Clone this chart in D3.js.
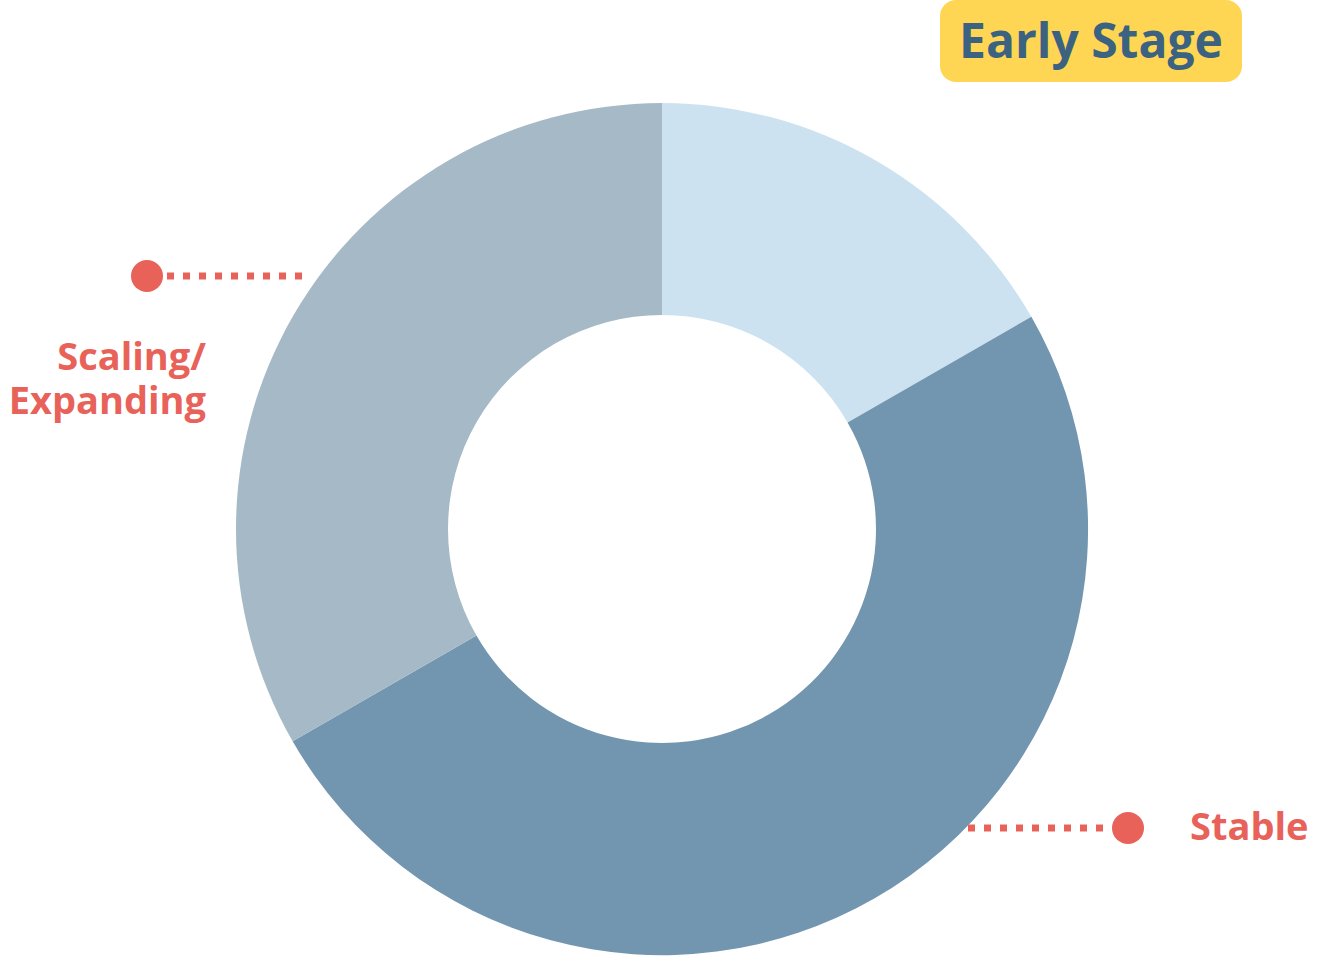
<!DOCTYPE html>
<html>
<head>
<meta charset="utf-8">
<script src="https://cdn.jsdelivr.net/npm/d3@7"></script>
<style>
  html, body { margin: 0; padding: 0; background: #ffffff; }
  svg { display: block; }
</style>
</head>
<body>
<svg id="chart" width="1327" height="963"></svg>
<script>
// Business stage shares, clockwise from 12 o'clock
const categories = ["Early Stage", "Stable", "Scaling/Expanding"];
const shares = [16.7, 50, 33.3];
const colors = ["#cde2f0", "#7396b0", "#a6b9c7"];

const svg = d3.select("#chart");
const cx = 662, cy = 529;
const outerR = 426, innerR = 214;

const pie = d3.pie().sort(null).value(d => d.value);
const arc = d3.arc().innerRadius(innerR).outerRadius(outerR);

const data = categories.map((c, i) => ({ name: c, value: shares[i], color: colors[i] }));

const g = svg.append("g").attr("transform", `translate(${cx},${cy})`);
g.selectAll("path")
  .data(pie(data))
  .join("path")
  .attr("d", arc)
  .attr("fill", d => d.data.color);

const red = "#e8625a";
const font = "'Open Sans', 'Noto Sans', sans-serif";

// Early Stage badge
const badge = svg.append("g");
badge.append("rect")
  .attr("x", 940).attr("y", 0)
  .attr("width", 302).attr("height", 82)
  .attr("rx", 16).attr("ry", 16)
  .attr("fill", "#ffd653");
badge.append("text")
  .attr("x", 1091).attr("y", 58)
  .attr("text-anchor", "middle")
  .attr("font-family", font)
  .attr("font-weight", 700)
  .attr("font-size", 48)
  .attr("fill", "#3b6381")
  .text(categories[0]);

// Leader: dotted line + dot
function leader(x1, x2, y, dotX) {
  svg.append("line")
    .attr("x1", x1).attr("x2", x2)
    .attr("y1", y).attr("y2", y)
    .attr("stroke", red)
    .attr("stroke-width", 7)
    .attr("stroke-dasharray", "7 9");
  svg.append("circle")
    .attr("cx", dotX).attr("cy", y).attr("r", 16)
    .attr("fill", red);
}

// Scaling/Expanding label, two lines
leader(167, 310, 276, 147);
const labelStyle = sel => sel
  .attr("text-anchor", "end")
  .attr("font-family", font)
  .attr("font-weight", 700)
  .attr("font-size", 38)
  .attr("fill", red);
svg.append("text").call(labelStyle).attr("x", 206).attr("y", 370).text("Scaling/");
svg.append("text").call(labelStyle).attr("x", 206).attr("y", 414).text("Expanding");

// Stable label
leader(968, 1112, 828, 1128);
svg.append("text")
  .attr("x", 1190).attr("y", 840)
  .attr("font-family", font)
  .attr("font-weight", 700)
  .attr("font-size", 38)
  .attr("fill", red)
  .text(categories[1]);
</script>
</body>
</html>
